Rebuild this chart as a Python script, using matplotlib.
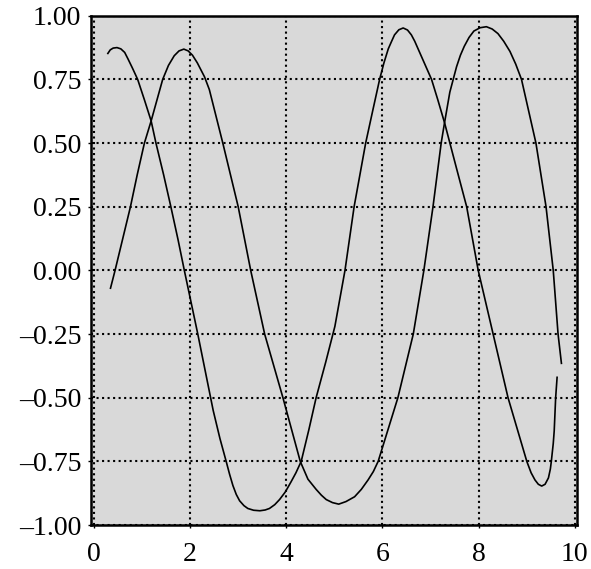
import matplotlib
matplotlib.use("Agg")
import matplotlib.pyplot as plt

# values
xa = [0.29, 0.34, 0.40, 0.48, 0.56, 0.64, 0.71, 0.80, 0.91, 1.05, 1.19, 1.29,
      1.45, 1.60, 1.75, 1.88, 2.02, 2.16, 2.32, 2.48, 2.62, 2.75, 2.82, 2.89,
      2.96, 3.03, 3.12, 3.20, 3.32, 3.45, 3.56, 3.65, 3.76, 3.86, 3.98, 4.10,
      4.20, 4.31, 4.47, 4.62, 4.82, 5.01, 5.22, 5.41, 5.65, 5.80, 5.94, 6.03,
      6.12, 6.19, 6.25, 6.34, 6.43, 6.52, 6.60, 6.67, 6.74, 6.88, 7.02, 7.15,
      7.29, 7.54, 7.75, 7.99, 8.30, 8.61, 9.00, 9.09, 9.17, 9.24, 9.31, 9.38,
      9.45, 9.49, 9.51, 9.55, 9.57, 9.60, 9.63]
ya = [0.852, 0.866, 0.873, 0.875, 0.870, 0.856, 0.83, 0.795, 0.75, 0.67, 0.587, 0.50,
      0.375, 0.25, 0.12, 0.0, -0.125, -0.25, -0.40, -0.55, -0.66, -0.75, -0.80, -0.845,
      -0.88, -0.905, -0.924, -0.935, -0.942, -0.944, -0.941, -0.935, -0.92, -0.90, -0.87, -0.83,
      -0.795, -0.75, -0.625, -0.50, -0.36, -0.22, 0.0, 0.25, 0.50, 0.63, 0.75, 0.815,
      0.87, 0.90, 0.925, 0.945, 0.952, 0.944, 0.925, 0.90, 0.87, 0.81, 0.75, 0.67,
      0.58, 0.40, 0.25, 0.0, -0.25, -0.50, -0.75, -0.795, -0.823, -0.840, -0.847, -0.840,
      -0.815, -0.78, -0.75, -0.68, -0.63, -0.50, -0.42]

xb = [0.345, 0.44, 0.60, 0.76, 0.90, 1.05, 1.19, 1.43, 1.55, 1.67, 1.77, 1.87,
      1.96, 2.05, 2.15, 2.30, 2.40, 2.48, 2.68, 3.00, 3.26, 3.55, 3.93, 4.29,
      4.45, 4.62, 4.73, 4.83, 4.96, 5.09, 5.24, 5.42, 5.56, 5.70, 5.81, 5.91,
      6.32, 6.64, 6.86, 7.05, 7.22, 7.29, 7.40, 7.54, 7.62, 7.70, 7.80, 7.90,
      8.03, 8.16, 8.28, 8.40, 8.52, 8.65, 8.77, 8.89, 9.19, 9.40, 9.55, 9.65,
      9.72]
yb = [-0.07, 0.0, 0.125, 0.25, 0.375, 0.50, 0.587, 0.75, 0.805, 0.843, 0.862, 0.869,
      0.862, 0.845, 0.815, 0.76, 0.71, 0.65, 0.50, 0.25, 0.0, -0.25, -0.50, -0.75,
      -0.82, -0.86, -0.883, -0.90, -0.912, -0.918, -0.908, -0.889, -0.86, -0.823, -0.79, -0.75,
      -0.50, -0.25, 0.0, 0.25, 0.50, 0.58, 0.70, 0.80, 0.845, 0.88, 0.915, 0.94,
      0.953, 0.957, 0.948, 0.93, 0.90, 0.86, 0.81, 0.75, 0.50, 0.25, 0.0, -0.25,
      -0.365]

xticks = [0, 2, 4, 6, 8, 10]
yticks = [-1.00, -0.75, -0.50, -0.25, 0.00, 0.25, 0.50, 0.75, 1.00]

plt.rcParams["font.family"] = ["Liberation Serif", "DejaVu Serif"]

fig = plt.figure(figsize=(5.91, 5.69), dpi=100)
ax = fig.add_axes([0.154, 0.0773, 0.822, 0.895])
ax.set_facecolor("#d9d9d9")

ax.plot(xa, ya, color="black", linewidth=1.2)
ax.plot(xb, yb, color="black", linewidth=1.2)

ax.set_xlim(-0.06, 10.04)
ax.set_ylim(-1, 1)
ax.set_xticks(xticks)
ax.set_yticks(yticks)
ax.set_yticklabels([("%.2f" % v).replace("-", "\u2013") for v in yticks])
ax.tick_params(labelsize=20, length=2, width=1)
ax.tick_params(axis="x", pad=10)
ax.tick_params(axis="y", pad=5)
ax.grid(True, color="black", linestyle=":", linewidth=1.5)
ax.set_axisbelow(True)
for s in ax.spines.values():
    s.set_linewidth(1.8)

fig.savefig("out.png", dpi=100)
